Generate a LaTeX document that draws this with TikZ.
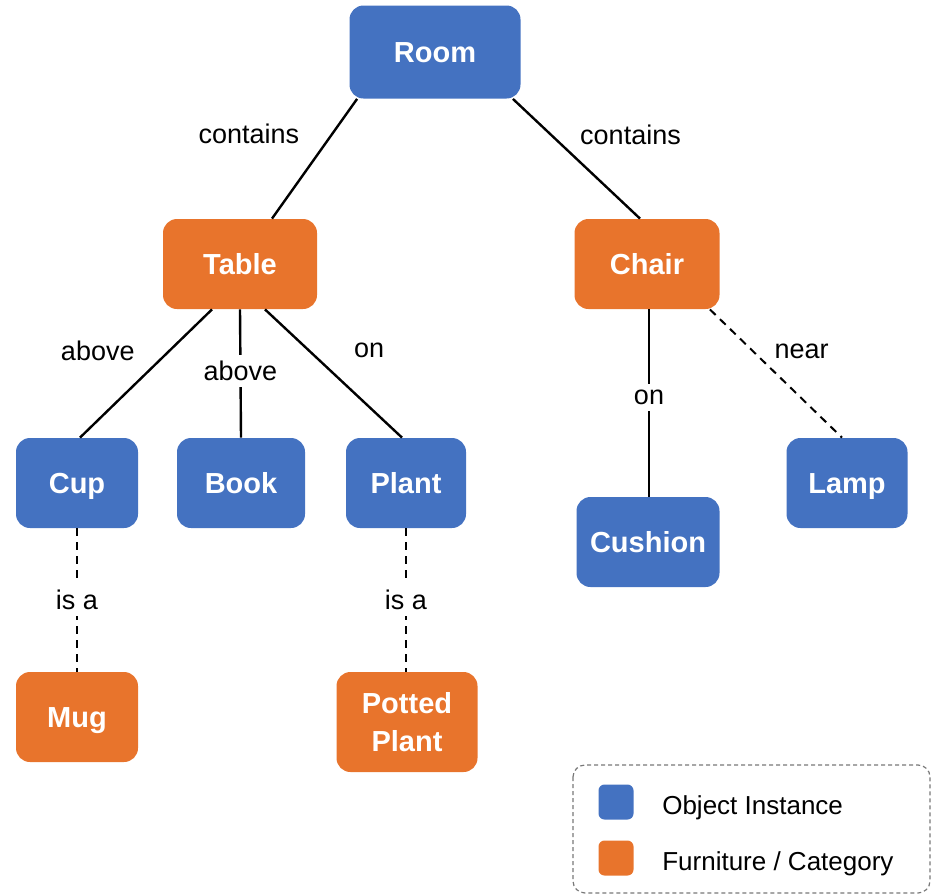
\documentclass[tikz,border=0pt]{standalone}
\usepackage{fontspec}
\setmainfont{Liberation Sans}
\usetikzlibrary{positioning}

\definecolor{objblue}{RGB}{68,114,193}
\definecolor{catorange}{RGB}{232,116,44}
\definecolor{legendgray}{RGB}{120,120,120}

\begin{document}
\begin{tikzpicture}[x=0.5pt, y=-0.5pt,
    box/.style={rectangle, rounded corners=7pt, draw=none, text=white, inner sep=0pt,
      minimum height=45pt, text height=10.4pt, text depth=0pt,
      font=\fontsize{14.5}{19}\selectfont\bfseries, align=center},
    objbox/.style={box, fill=objblue},
    catbox/.style={box, fill=catorange},
    rel/.style={line width=1.2pt, black},
    isrel/.style={line width=1pt, black, dash pattern=on 4pt off 3pt},
    lbl/.style={font=\fontsize{13.5}{16}\selectfont, text=black, inner sep=2pt},
    midlbl/.style={lbl, fill=white, inner sep=3pt},
    keybox/.style={rectangle, rounded corners=3pt, minimum size=17.5pt, inner sep=0pt},
    keytext/.style={font=\fontsize{13}{15}\selectfont, inner sep=0pt, anchor=west,
      text height=9.3pt, text depth=0pt, yshift=-1.5pt}]

    \useasboundingbox (0,0) rectangle (937,895);

    % Nodes
    \node[objbox, minimum width=85.5pt, minimum height=46.5pt] (room) at (435,52) {Room};
    \node[catbox, minimum width=77pt] (table) at (240,264) {Table};
    \node[catbox, minimum width=72.5pt] (chair) at (647,264) {Chair};
    \node[objbox, minimum width=61pt] (cup) at (77,483) {Cup};
    \node[objbox, minimum width=64pt] (book) at (241,483) {Book};
    \node[objbox, minimum width=60pt] (plant) at (406,483) {Plant};
    \node[objbox, minimum width=71.5pt] (cushion) at (648,542) {Cushion};
    \node[objbox, minimum width=60.5pt] (lamp) at (847,483) {Lamp};
    \node[catbox, minimum width=61pt] (mug) at (77,717) {Mug};
    \node[catbox, minimum width=70.5pt, minimum height=50pt, text height=, text depth=] (potted) at (407,722) {Potted\\Plant};

    % Relations
    \draw[rel] ([xshift=4pt]room.south west) -- node[lbl, pos=0.29, left=14pt] {contains} ([xshift=16pt]table.north);
    \draw[rel] ([xshift=-4pt]room.south east) -- node[lbl, pos=0.3, right=12pt] {contains} ([xshift=-3.5pt]chair.north);
    \draw[rel] ([xshift=-14pt]table.south) -- node[lbl, pos=0.32, left=15pt] {above} ([xshift=1.5pt]cup.north);
    \draw[rel] (table.south) -- node[midlbl, pos=0.48] {above} (book.north);
    \draw[rel] ([xshift=12.5pt]table.south) -- node[lbl, pos=0.32, right=20pt] {on} ([xshift=-2pt]plant.north);
    \draw[rel] ([xshift=1pt]chair.south) -- node[midlbl, pos=0.47] {on} ([xshift=0.5pt]cushion.north);
    \draw[isrel] ([xshift=-5pt]chair.south east) -- node[lbl, pos=0.33, right=8pt] {near} ([xshift=-2.5pt]lamp.north);
    \draw[isrel] (cup.south) -- node[midlbl, midway] {is a} (mug.north);
    \draw[isrel] (plant.south) -- node[midlbl, midway] {is a} ([xshift=-0.5pt]potted.north);

    % Legend
    \draw[legendgray, line width=0.6pt, dash pattern=on 2pt off 1.5pt, rounded corners=6pt]
      (573,765) rectangle (930,893);
    \node[keybox, fill=objblue] (keyobj) at (616,802) {};
    \node[keybox, fill=catorange] (keycat) at (616,858) {};
    \node[keytext, right=14pt of keyobj.east] (keyobjtext) {Object Instance};
    \node[keytext, right=14pt of keycat.east] (keycattext) {Furniture / Category};

\end{tikzpicture}
\end{document}
